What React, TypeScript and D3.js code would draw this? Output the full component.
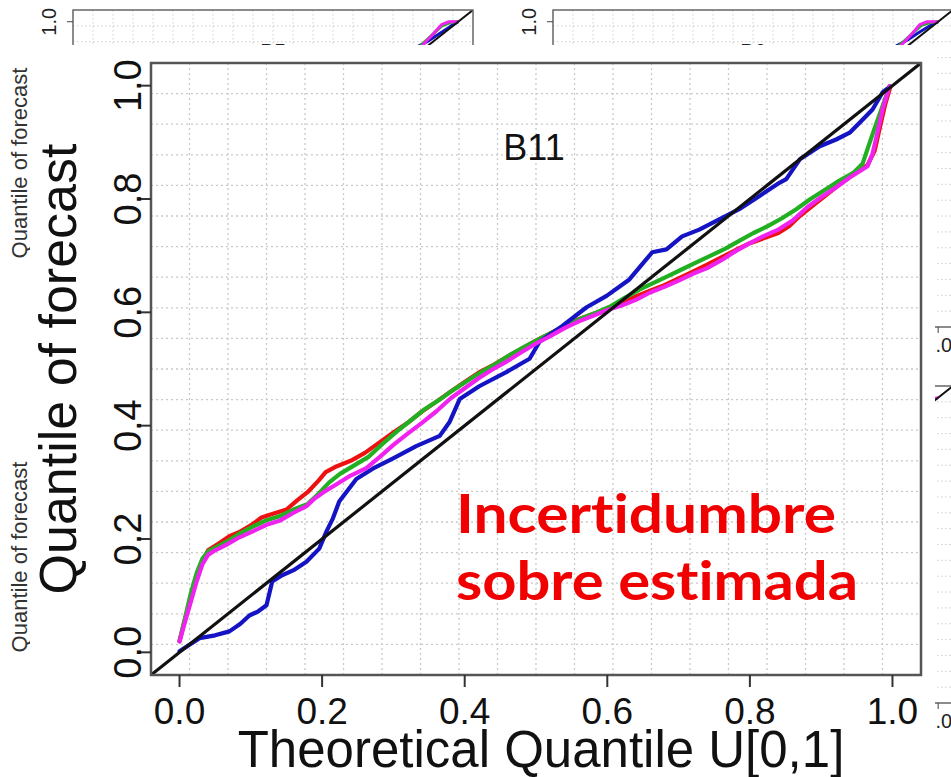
import React from 'react';
import * as d3 from 'd3';

const W = 951;
const H = 777;

const tickValues = [0, 0.2, 0.4, 0.6, 0.8, 1.0];
const tickLabels = ['0.0', '0.2', '0.4', '0.6', '0.8', '1.0'];

const panelTitle = 'B11';
const xTitle = 'Theoretical Quantile U[0,1]';
const yTitle = 'Quantile of forecast';
const noteLines = ['Incertidumbre', 'sobre estimada'];

const blueQ: [number, number][] = [
  [0.000, 0.002], [0.028, 0.025], [0.050, 0.030], [0.070, 0.037], [0.085, 0.050], [0.098, 0.065],
  [0.110, 0.072], [0.122, 0.083], [0.130, 0.125], [0.144, 0.136], [0.160, 0.145], [0.178, 0.160],
  [0.196, 0.183], [0.206, 0.213], [0.215, 0.236], [0.224, 0.266], [0.248, 0.306], [0.271, 0.324],
  [0.299, 0.342], [0.332, 0.364], [0.365, 0.382], [0.379, 0.407], [0.393, 0.447], [0.421, 0.470],
  [0.459, 0.495], [0.491, 0.518], [0.505, 0.548], [0.537, 0.576], [0.571, 0.609], [0.599, 0.629],
  [0.631, 0.658], [0.663, 0.706], [0.683, 0.711], [0.705, 0.734], [0.729, 0.746], [0.757, 0.764],
  [0.785, 0.782], [0.813, 0.805], [0.842, 0.829], [0.851, 0.835], [0.870, 0.870], [0.898, 0.893],
  [0.921, 0.905], [0.940, 0.917], [0.958, 0.940], [0.972, 0.958], [0.986, 0.988], [0.996, 0.998],
];

const redQ: [number, number][] = [
  [0.000, 0.020], [0.008, 0.060], [0.016, 0.095], [0.024, 0.130], [0.032, 0.160], [0.040, 0.180],
  [0.055, 0.192], [0.070, 0.205], [0.085, 0.213], [0.100, 0.224], [0.115, 0.238], [0.130, 0.244],
  [0.150, 0.252], [0.165, 0.268], [0.180, 0.283], [0.195, 0.303], [0.205, 0.318], [0.220, 0.328],
  [0.240, 0.338], [0.260, 0.352], [0.280, 0.370], [0.300, 0.388], [0.320, 0.405], [0.340, 0.425],
  [0.360, 0.442], [0.380, 0.460], [0.400, 0.477], [0.420, 0.494], [0.440, 0.507], [0.460, 0.522],
  [0.480, 0.536], [0.500, 0.550], [0.520, 0.563], [0.540, 0.576], [0.560, 0.588], [0.580, 0.597],
  [0.600, 0.606], [0.620, 0.616], [0.640, 0.628], [0.660, 0.638], [0.680, 0.648], [0.700, 0.660],
  [0.720, 0.672], [0.740, 0.684], [0.760, 0.697], [0.780, 0.710], [0.800, 0.722], [0.820, 0.731],
  [0.840, 0.740], [0.855, 0.752], [0.870, 0.770], [0.890, 0.790], [0.910, 0.810], [0.930, 0.830],
  [0.950, 0.848], [0.965, 0.860], [0.975, 0.885], [0.983, 0.930], [0.990, 0.968], [0.997, 0.998],
];

const greenQ: [number, number][] = [
  [0.000, 0.020], [0.008, 0.062], [0.016, 0.105], [0.024, 0.140], [0.032, 0.165], [0.040, 0.178],
  [0.055, 0.188], [0.070, 0.198], [0.085, 0.210], [0.100, 0.220], [0.120, 0.232], [0.140, 0.240],
  [0.160, 0.252], [0.180, 0.262], [0.195, 0.280], [0.210, 0.300], [0.225, 0.315], [0.245, 0.330],
  [0.265, 0.345], [0.285, 0.368], [0.305, 0.390], [0.325, 0.410], [0.345, 0.430], [0.365, 0.446],
  [0.385, 0.464], [0.405, 0.480], [0.425, 0.496], [0.445, 0.510], [0.465, 0.526], [0.485, 0.540],
  [0.505, 0.553], [0.525, 0.566], [0.545, 0.578], [0.565, 0.590], [0.585, 0.600], [0.605, 0.611],
  [0.625, 0.626], [0.645, 0.640], [0.665, 0.652], [0.685, 0.664], [0.705, 0.676], [0.725, 0.688],
  [0.745, 0.700], [0.765, 0.712], [0.785, 0.726], [0.805, 0.740], [0.825, 0.752], [0.845, 0.766],
  [0.865, 0.782], [0.885, 0.800], [0.905, 0.816], [0.925, 0.832], [0.945, 0.846], [0.958, 0.862],
  [0.966, 0.892], [0.975, 0.925], [0.985, 0.960], [0.996, 0.999],
];

const magentaQ: [number, number][] = [
  [0.000, 0.019], [0.008, 0.055], [0.016, 0.090], [0.024, 0.125], [0.032, 0.155], [0.040, 0.172],
  [0.050, 0.180], [0.066, 0.190], [0.084, 0.203], [0.102, 0.213], [0.122, 0.225], [0.140, 0.232],
  [0.158, 0.245], [0.178, 0.258], [0.190, 0.272], [0.205, 0.285], [0.222, 0.298], [0.240, 0.312],
  [0.262, 0.325], [0.281, 0.345], [0.300, 0.366], [0.320, 0.386], [0.340, 0.405], [0.360, 0.425],
  [0.380, 0.448], [0.400, 0.466], [0.420, 0.484], [0.440, 0.500], [0.460, 0.514], [0.480, 0.530],
  [0.500, 0.545], [0.520, 0.558], [0.540, 0.572], [0.560, 0.584], [0.580, 0.594], [0.600, 0.604],
  [0.620, 0.612], [0.640, 0.622], [0.660, 0.635], [0.680, 0.645], [0.700, 0.656], [0.720, 0.668],
  [0.740, 0.678], [0.760, 0.692], [0.780, 0.708], [0.800, 0.722], [0.820, 0.735], [0.840, 0.746],
  [0.860, 0.762], [0.880, 0.785], [0.900, 0.803], [0.920, 0.820], [0.940, 0.838], [0.955, 0.850],
  [0.965, 0.858], [0.972, 0.880], [0.978, 0.912], [0.986, 0.958], [0.996, 0.999],
];

// background panels (only their top-right corners are visible)
const fragTitles = ['B5', 'B6'];
const fragLeftBlue: [number, number][] = [[0.86, 0.89], [0.89, 0.915], [0.92, 0.935], [0.95, 0.96], [0.98, 0.985], [1.0, 1.0]];
const fragLeftGreen: [number, number][] = [[0.87, 0.885], [0.90, 0.92], [0.93, 0.955], [0.955, 0.985], [0.98, 0.998], [1.0, 1.0]];
const fragLeftMagenta: [number, number][] = [[0.87, 0.88], [0.90, 0.915], [0.93, 0.955], [0.955, 0.99], [0.975, 1.0], [0.99, 1.0], [1.0, 1.0]];
const fragRightBlue: [number, number][] = [[0.86, 0.895], [0.89, 0.92], [0.92, 0.94], [0.95, 0.965], [0.98, 0.988], [1.0, 1.0]];
const fragRightGreen: [number, number][] = [[0.87, 0.89], [0.90, 0.925], [0.93, 0.96], [0.955, 0.988], [0.98, 0.998], [1.0, 1.0]];
const fragRightMagenta: [number, number][] = [[0.87, 0.885], [0.90, 0.92], [0.93, 0.96], [0.95, 0.99], [0.97, 1.0], [0.99, 1.0], [1.0, 1.0]];
const fragRow2Magenta: [number, number][] = [[0.9, 0.93], [0.95, 0.975], [0.98, 0.995], [1.0, 1.0]];

const COLORS = {
  red: '#ee1111',
  green: '#22b022',
  blue: '#1414c4',
  magenta: '#f022f0',
};

const FONT = '"Liberation Sans", Arial, Helvetica, sans-serif';
const gridSteps = d3.range(1, 20).map((k) => -0.04 + (k * 1.08) / 20);

type Series = { data: [number, number][]; color: string };

function Fragment(props: {
  id: string; x0: number; y0: number; title?: string; series: Series[];
  yLabelCenter?: number; showYTick?: boolean; showXTick?: boolean;
}) {
  const { id, x0, y0, title, series, yLabelCenter, showYTick, showXTick } = props;
  const fw = 400, fh = 317;
  const fx = d3.scaleLinear().domain([-0.04, 1.04]).range([x0, x0 + fw]);
  const fy = d3.scaleLinear().domain([-0.04, 1.04]).range([y0 + fh, y0]);
  const line = d3.line<[number, number]>().x((d) => fx(d[0])).y((d) => fy(d[1]));
  const lastTick = tickValues.length - 1;
  return (
    <g>
      <defs>
        <clipPath id={id}>
          <rect x={x0} y={y0} width={fw} height={fh} />
        </clipPath>
      </defs>
      {gridSteps.map((v, i) => (
        <g key={i}>
          <line x1={fx(v)} x2={fx(v)} y1={y0} y2={y0 + fh} stroke="#cfcfcf" strokeWidth={1} strokeDasharray="1.5,2.5" />
          <line x1={x0} x2={x0 + fw} y1={fy(v)} y2={fy(v)} stroke="#cfcfcf" strokeWidth={1} strokeDasharray="1.5,2.5" />
        </g>
      ))}
      {title && (
        <text x={fx(0.5)} y={y0 + 48} textAnchor="middle" fontFamily={FONT} fontSize={21} fill="#222">{title}</text>
      )}
      <g clipPath={`url(#${id})`}>
        {series.map((s, i) => (
          <path key={i} d={line(s.data) || ''} fill="none" stroke={s.color} strokeWidth={3} strokeLinejoin="round" />
        ))}
        <line x1={fx(-0.04)} y1={fy(-0.04)} x2={fx(1.04)} y2={fy(1.04)} stroke="#111" strokeWidth={2} />
      </g>
      <rect x={x0} y={y0} width={fw} height={fh} fill="none" stroke="#666" strokeWidth={1.5} />
      {tickValues.map((v, i) => (
        <g key={i}>
          <line x1={x0} x2={x0 - 6} y1={fy(v)} y2={fy(v)} stroke="#444" strokeWidth={1} />
          <line x1={fx(v)} x2={fx(v)} y1={y0 + fh} y2={y0 + fh + 6} stroke="#444" strokeWidth={1} />
        </g>
      ))}
      {showYTick && (
        <text transform={`translate(${x0 - 17},${fy(tickValues[lastTick])}) rotate(-90)`} textAnchor="middle" fontFamily={FONT} fontSize={20} fill="#222">{tickLabels[lastTick]}</text>
      )}
      {showXTick && (
        <text x={fx(tickValues[lastTick])} y={y0 + fh + 25} textAnchor="middle" fontFamily={FONT} fontSize={20} fill="#222">{tickLabels[lastTick]}</text>
      )}
      {yLabelCenter !== undefined && (
        <text transform={`translate(27,${yLabelCenter}) rotate(-90)`} textAnchor="middle" fontFamily={FONT} fontSize={22} fill="#333">{yTitle}</text>
      )}
    </g>
  );
}

export default function App() {
  const x = d3.scaleLinear().domain([-0.04, 1.04]).range([151, 921]);
  const y = d3.scaleLinear().domain([-0.04, 1.04]).range([675, 63]);
  const line = d3.line<[number, number]>().x((d) => x(d[0])).y((d) => y(d[1]));

  const mainSeries: Series[] = [
    { data: redQ, color: COLORS.red },
    { data: greenQ, color: COLORS.green },
    { data: blueQ, color: COLORS.blue },
    { data: magentaQ, color: COLORS.magenta },
  ];

  return (
    <svg width={W} height={H} style={{ position: 'absolute', left: 0, top: 0, background: '#fff' }}>
      <rect x={0} y={0} width={W} height={H} fill="#fff" />
      {/* background panels */}
      <Fragment id="f1" x0={73} y0={10} title={fragTitles[0]} yLabelCenter={163} showYTick
        series={[{ data: fragLeftBlue, color: COLORS.blue }, { data: fragLeftGreen, color: COLORS.green }, { data: fragLeftMagenta, color: COLORS.magenta }]} />
      <Fragment id="f2" x0={553} y0={10} title={fragTitles[1]} showYTick showXTick
        series={[{ data: fragRightBlue, color: COLORS.blue }, { data: fragRightGreen, color: COLORS.green }, { data: fragRightMagenta, color: COLORS.magenta }]} />
      <Fragment id="f3" x0={73} y0={386} yLabelCenter={557} series={[]} />
      <Fragment id="f4" x0={553} y0={386} showXTick
        series={[{ data: fragRow2Magenta, color: COLORS.magenta }]} />

      {/* overlay: main chart */}
      <rect x={30} y={45} width={905} height={H - 45} fill="#fff" />
      <defs>
        <clipPath id="mainclip">
          <rect x={151} y={63} width={770} height={612} />
        </clipPath>
      </defs>
      {gridSteps.map((v, i) => (
        <g key={i}>
          <line x1={x(v)} x2={x(v)} y1={63} y2={675} stroke="#c9c9c9" strokeWidth={1.3} strokeDasharray="2,3" />
          <line x1={151} x2={921} y1={y(v)} y2={y(v)} stroke="#c9c9c9" strokeWidth={1.3} strokeDasharray="2,3" />
        </g>
      ))}
      <text x={534} y={160} textAnchor="middle" fontFamily={FONT} fontSize={36} fill="#111">{panelTitle}</text>
      <g clipPath="url(#mainclip)">
        {mainSeries.map((s, i) => (
          <path key={i} d={line(s.data) || ''} fill="none" stroke={s.color} strokeWidth={4.2} strokeLinejoin="round" strokeLinecap="round" />
        ))}
        <line x1={x(-0.04)} y1={y(-0.04)} x2={x(1.04)} y2={y(1.04)} stroke="#111" strokeWidth={3.2} />
      </g>
      <rect x={151} y={63} width={770} height={612} fill="none" stroke="#555" strokeWidth={2.5} />
      {tickValues.map((v, i) => (
        <g key={i}>
          <line x1={151} x2={139} y1={y(v)} y2={y(v)} stroke="#333" strokeWidth={2} />
          <text transform={`translate(141,${y(v)}) rotate(-90)`} textAnchor="middle" fontFamily={FONT} fontSize={38} fill="#111">{tickLabels[i]}</text>
          <line x1={x(v)} x2={x(v)} y1={675} y2={687} stroke="#333" strokeWidth={2} />
          <text x={x(v)} y={724} textAnchor="middle" fontFamily={FONT} fontSize={37} fill="#111">{tickLabels[i]}</text>
        </g>
      ))}
      <text x={541} y={767} textAnchor="middle" fontFamily={FONT} fontSize={51} fill="#111">{xTitle}</text>
      <text transform={`translate(76,369) rotate(-90)`} textAnchor="middle" fontFamily={FONT} fontSize={52} fill="#111">{yTitle}</text>
      <text x={456} y={533} fontFamily="Lato, 'Open Sans', sans-serif" fontWeight={700} fontSize={54} fill="#f00000"
        textLength={380} lengthAdjust="spacingAndGlyphs" style={{ fontVariantLigatures: 'none' }}>{noteLines[0]}</text>
      <text x={456} y={600} fontFamily="Lato, 'Open Sans', sans-serif" fontWeight={700} fontSize={54} fill="#f00000"
        textLength={402} lengthAdjust="spacingAndGlyphs" style={{ fontVariantLigatures: 'none' }}>{noteLines[1]}</text>
    </svg>
  );
}
